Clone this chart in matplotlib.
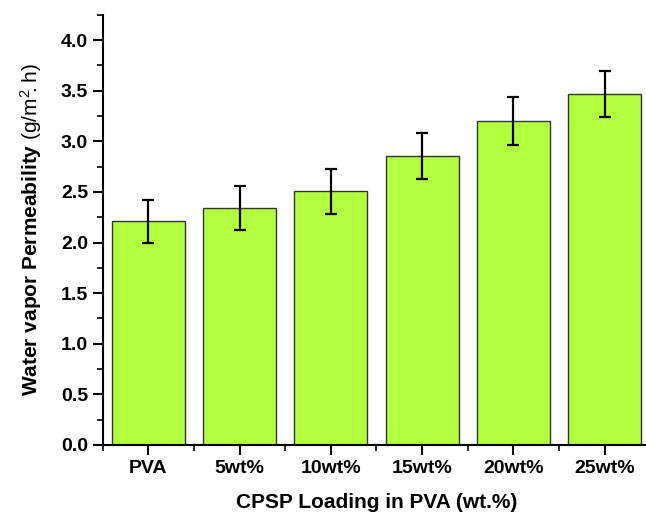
import matplotlib
matplotlib.use("Agg")
import matplotlib.pyplot as plt
from matplotlib.ticker import MultipleLocator, FixedLocator, FormatStrFormatter

plt.rcParams["font.family"] = ["Liberation Sans", "DejaVu Sans"]
plt.rcParams["mathtext.fontset"] = "custom"
plt.rcParams["mathtext.rm"] = "Liberation Sans"

categories = ["PVA", "5wt%", "10wt%", "15wt%", "20wt%", "25wt%"]
wvp = [2.21, 2.34, 2.505, 2.855, 3.20, 3.465]
wvp_err = [0.21, 0.22, 0.22, 0.23, 0.235, 0.23]

fig = plt.figure(figsize=(6.46, 5.13), dpi=100)
ax = fig.add_axes([0.159, 0.1326, 0.8476, 0.8387])

x = list(range(len(categories)))
ax.bar(x, wvp, width=0.8, color="#B2FF40", edgecolor="#333333", linewidth=1.0, zorder=2)
ax.errorbar(x, wvp, yerr=wvp_err, fmt="none", ecolor="black", elinewidth=1.6,
            capsize=4.5, capthick=1.6, zorder=3)

ax.set_xlim(-0.5, 5.5)
ax.set_ylim(0, 4.25)

for side in ("top", "right"):
    ax.spines[side].set_visible(False)
for side in ("left", "bottom"):
    ax.spines[side].set_linewidth(1.5)

ax.set_xticks(x)
ax.set_xticklabels(categories)
ax.xaxis.set_minor_locator(FixedLocator([i - 0.5 for i in range(len(categories) + 1)]))
ax.yaxis.set_major_locator(MultipleLocator(0.5))
ax.yaxis.set_minor_locator(MultipleLocator(0.25))
ax.yaxis.set_major_formatter(FormatStrFormatter("%.1f"))
ax.tick_params(axis="both", which="major", direction="out", length=7, width=1.5,
               labelsize=14)
ax.tick_params(axis="x", which="major", pad=4)
ax.tick_params(axis="both", which="minor", direction="out", length=4, width=1.2)
for lbl in ax.get_xticklabels() + ax.get_yticklabels():
    lbl.set_fontweight("bold")

ax.set_xlabel("CPSP Loading in PVA (wt.%)", fontsize=15, fontweight="bold", labelpad=11)
ax.set_ylabel(r"Water vapor Permeability $\mathrm{(g/m^2\!.h)}$", fontsize=15,
              fontweight="bold", labelpad=12)

fig.savefig("out.png", dpi=100)
